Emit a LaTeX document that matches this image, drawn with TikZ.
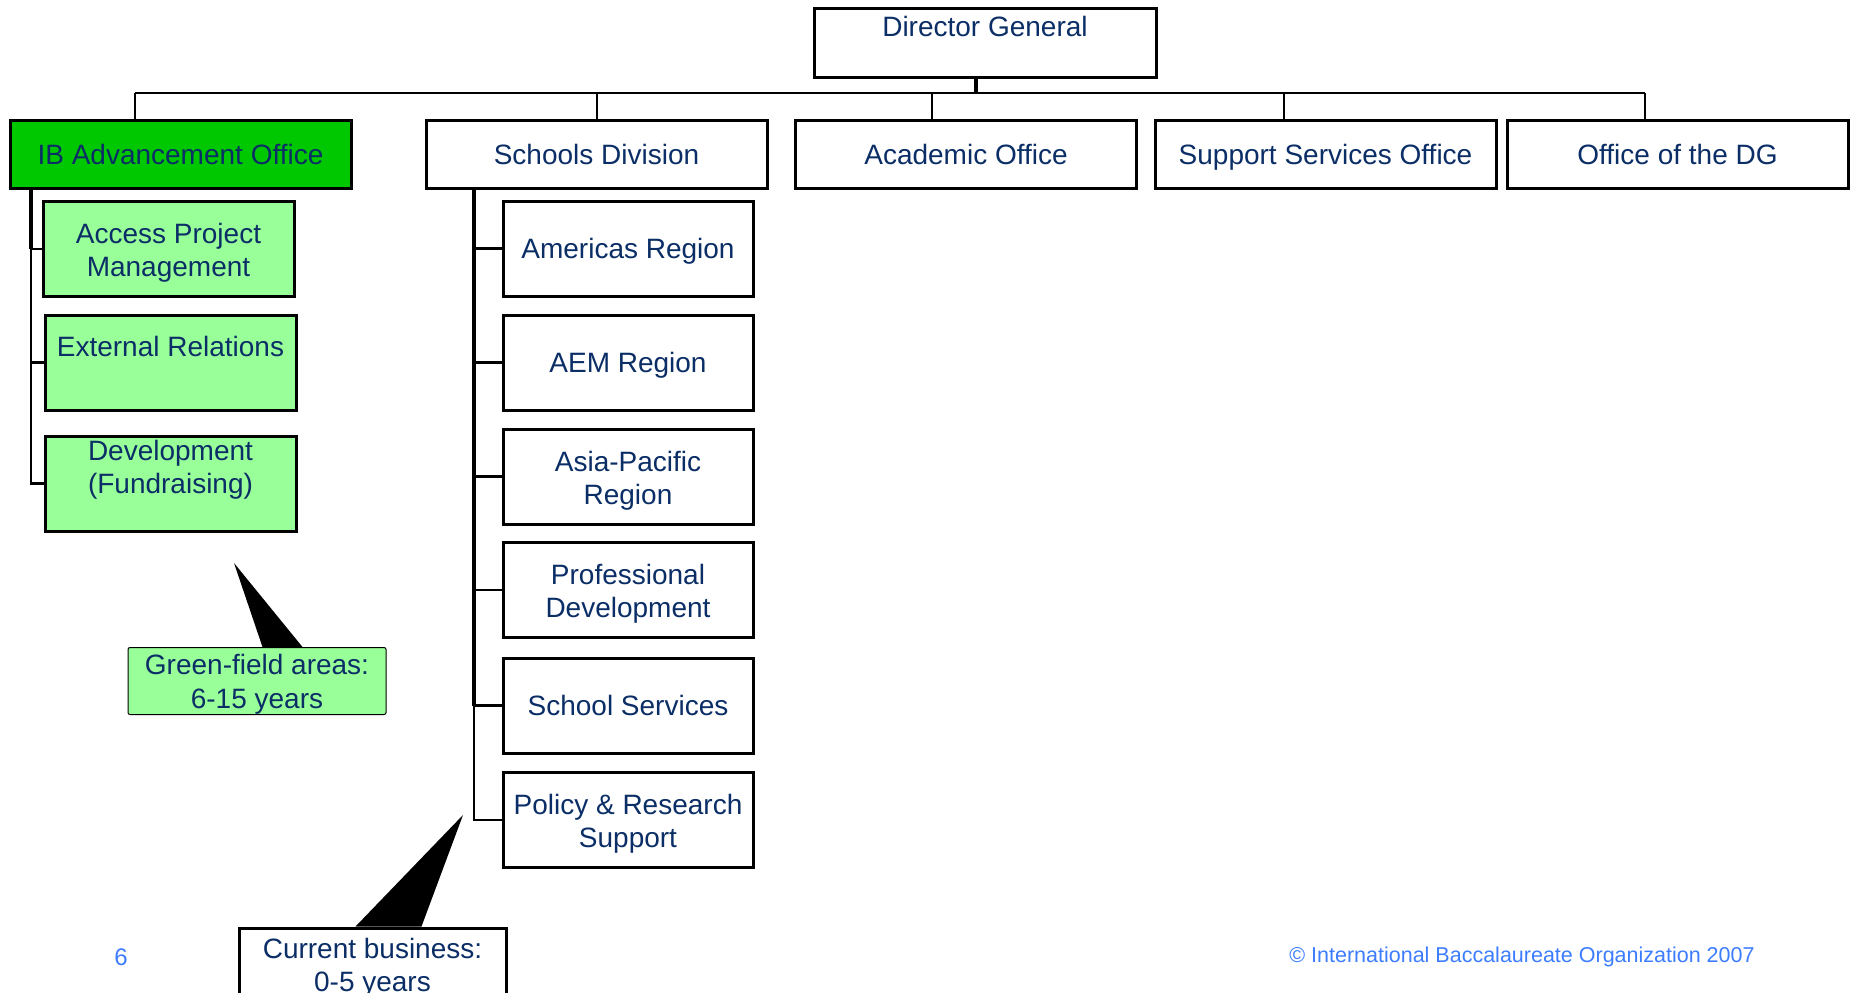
\documentclass[tikz,border=0pt]{standalone}
\usepackage{fontspec}
\setmainfont{Liberation Sans}
\usetikzlibrary{calc}

\definecolor{navy}{HTML}{0B2E66}
\definecolor{ibgreen}{HTML}{00C800}
\definecolor{palegreen}{HTML}{99FF99}
\definecolor{footblue}{HTML}{3C7DFF}

\begin{document}
\begin{tikzpicture}[x=1pt, y=-1pt,
  unit/.style={draw, line width=3pt, fill=white, text=navy, font=\fontsize{28}{33}\selectfont,
    align=center, inner sep=0pt, text height=20pt, text depth=0pt,
    minimum width=341pt, minimum height=68pt},
  sub/.style={unit, minimum width=251pt, minimum height=95pt},
  two/.style={text height=55pt},
  pale/.style={fill=palegreen},
  toplbl/.style={text=navy, font=\fontsize{28}{33}\selectfont, align=center, inner sep=0pt},
  note/.style={draw, line width=1pt, rounded corners=2pt, fill=palegreen, text=navy,
    font=\fontsize{28}{34}\selectfont, align=center, inner sep=0pt, text height=20pt, text depth=0pt,
    minimum width=258pt, minimum height=67pt},
  link/.style={line width=2.8pt},
  trunk/.style={line width=4.5pt}]
  \useasboundingbox (0,0) rectangle (1850,993);
  \clip (0,0) rectangle (1850,993);

  \node[unit, minimum width=342pt, minimum height=69pt,
        label={[toplbl, yshift=16pt]center:Director General}] (dg) at (985,42.5) {};

  \node[unit, fill=ibgreen] (ibao) at (180.5,154) {IB Advancement Office};
  \node[unit] (sd)  at (596.5,154)  {Schools Division};
  \node[unit] (ao)  at (966,154)    {Academic Office};
  \node[unit] (sso) at (1325.5,154) {Support Services Office};
  \node[unit] (odg) at (1677.5,154) {Office of the DG};

  % advancement office sections
  \node[sub, two, pale] (apm) at (168.5,249) {Access Project\\Management};
  \node[sub, pale, label={[toplbl, yshift=16pt]center:External Relations}] (er) at (170.5,362.5) {};
  \node[sub, pale, label={[toplbl, yshift=14pt]center:{Development\\(Fundraising)}}] (dev) at (170.5,483.5) {};

  % regions and services
  \node[sub, minimum width=250pt] (amr) at (628,248.5) {Americas Region};
  \node[sub, minimum width=250pt] (aem) at (628,362.5) {AEM Region};
  \node[sub, two, minimum width=250pt] (apr) at (628,476.5) {Asia-Pacific\\Region};
  \node[sub, two, minimum width=250pt] (pd)  at (628,590)   {Professional\\Development};
  \node[sub, minimum width=250pt] (ss)  at (628,705.5) {School Services};
  \node[sub, two, minimum width=250pt] (prs) at (628,820)   {Policy \& Research\\Support};

  \node[note, two] (gf) at (257,681) {Green-field areas:\\6-15 years};
  \node[unit, two, text height=54pt, minimum width=267pt, minimum height=72pt] (cb) at (372.5,964) {Current business:\\0-5 years};

  \node[text=footblue, font=\fontsize{24}{24}\selectfont] (pg) at (121,957) {6};
  \node[text=footblue, font=\fontsize{21.5}{22}\selectfont] (copy) at (1522,957) {© International Baccalaureate Organization 2007};

  % bus under the director
  \coordinate (bus) at (976,93);
  \draw[trunk] (bus |- dg.south) -- (bus);
  \draw[link] (135,93) -- (1645,93);
  \draw[link] (135,93) -- (135,0 |- ibao.north);
  \draw[link] (597,93) -- (597,0 |- sd.north);
  \draw[link] (932,93) -- (932,0 |- ao.north);
  \draw[link] (1284,93) -- (1284,0 |- sso.north);
  \draw[link] (1645,93) -- (1645,0 |- odg.north);

  % left branch
  \coordinate (ibt) at (31,0 |- ibao.south);
  \draw[trunk] (ibt) -- (ibt |- apm.west);
  \draw[link] (ibt) |- (apm.west);
  \draw[link] (ibt) |- (er.west);
  \draw[link] (ibt) |- (dev.west);

  % schools branch
  \coordinate (sdt) at (474,0 |- sd.south);
  \draw[trunk] (sdt) -- (sdt |- ss.west);
  \draw[link] (sdt) |- (amr.west);
  \draw[link] (sdt) |- (aem.west);
  \draw[link] (sdt) |- (apr.west);
  \draw[link] (sdt) |- (pd.west);
  \draw[link] (sdt) |- (ss.west);
  \draw[link] (sdt) |- (prs.west);

  % pointers of the notes
  \coordinate (gftip) at (234,563);
  \fill (gftip) -- ($(gf.north west)+(135,0)$) -- ($(gf.north west)+(175,0)$) -- cycle;
  \coordinate (cbtip) at (463,815);
  \fill (cbtip) -- ($(cb.north west)+(118,0)$) -- ($(cb.north west)+(184,0)$) -- cycle;
\end{tikzpicture}
\end{document}
